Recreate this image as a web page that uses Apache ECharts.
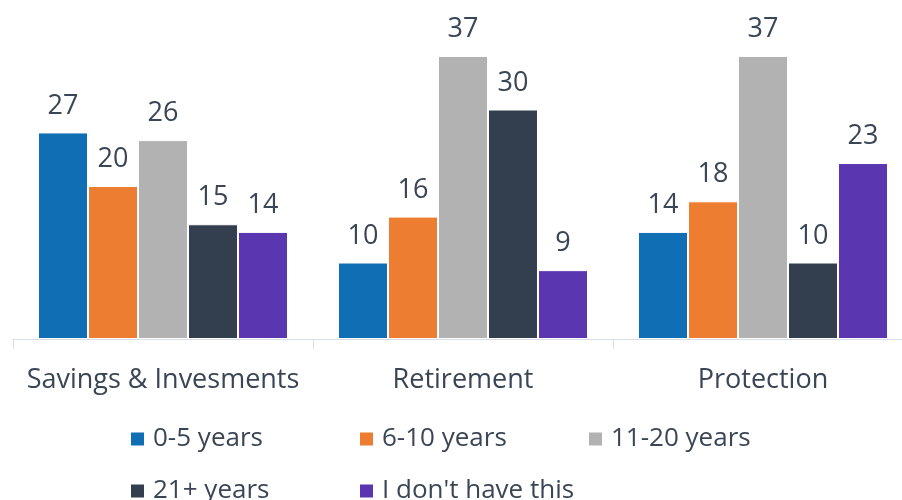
<!DOCTYPE html>
<html>
<head>
<meta charset="utf-8">
<script src="https://cdn.jsdelivr.net/npm/echarts@6/dist/echarts.min.js"></script>
<style>
  html, body { margin: 0; padding: 0; background: #fff; overflow: hidden; }
  #chart { width: 913px; height: 500px; }
</style>
</head>
<body>
<div id="chart"></div>
<script>
const categories = ["Savings & Invesments", "Retirement", "Protection"];
const seriesNames = ["0-5 years", "6-10 years", "11-20 years", "21+ years", "I don't have this"];
const years0to5 = [27, 10, 14];
const years6to10 = [20, 16, 18];
const years11to20 = [26, 37, 37];
const years21plus = [15, 30, 10];
const dontHave = [14, 9, 23];
const colors = ["#106EB5", "#ED7D31", "#B2B2B2", "#333F4F", "#5A36B0"];

const values = [years0to5, years6to10, years11to20, years21plus, dontHave];
const textColor = "#3A4656";
const font = "'Open Sans', sans-serif";

const chart = echarts.init(document.getElementById("chart"));

// plot runs past the right edge of the window, like the original
chart.setOption({
  animation: false,
  color: colors,
  grid: { left: 13, right: 0, top: 33, bottom: 161 },
  legend: {
    left: 129,
    top: 413,
    width: 700,
    padding: 0,
    itemWidth: 15,
    itemHeight: 15,
    itemGap: 0,
    icon: "rect",
    textStyle: {
      color: textColor,
      fontFamily: font,
      fontSize: 26,
      width: 205,
      lineHeight: 52,
      padding: [0, 0, 0, 3]
    },
    data: seriesNames
  },
  xAxis: {
    type: "category",
    data: categories,
    axisLine: { lineStyle: { color: "#D9DEE7", width: 1 } },
    axisTick: { show: true, length: 10, lineStyle: { color: "#D9DEE7" } },
    axisLabel: { interval: 0, color: textColor, fontFamily: font, fontSize: 27, margin: 28 }
  },
  yAxis: {
    type: "value",
    min: 0,
    max: 40,
    show: false,
    splitLine: { show: false }
  },
  series: values.map((v, i) => ({
    name: seriesNames[i],
    type: "bar",
    data: v,
    barGap: "0%",
    barCategoryGap: "16.67%",
    itemStyle: { borderColor: "#fff", borderWidth: 1 },
    label: {
      show: true,
      position: "top",
      distance: 13,
      color: textColor,
      fontFamily: font,
      fontSize: 27
    }
  }))
});
</script>
</body>
</html>
